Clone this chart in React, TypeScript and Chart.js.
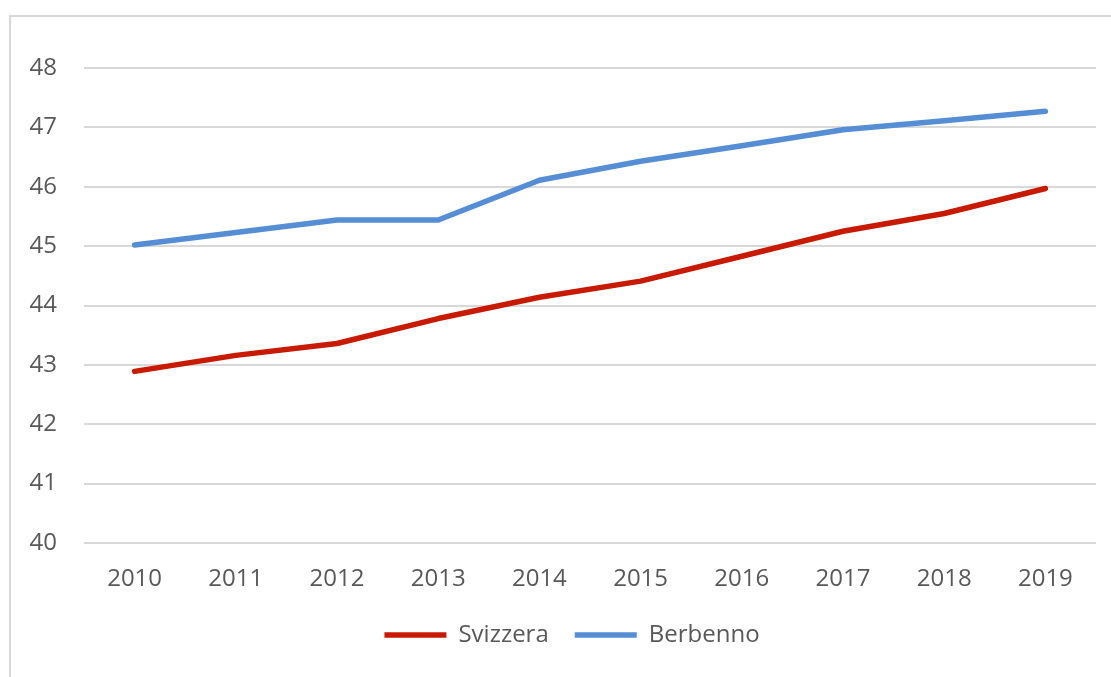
import React, { useEffect, useRef } from "react";
import { Chart, registerables } from "chart.js";

Chart.register(...registerables);

const years = ["2010", "2011", "2012", "2013", "2014", "2015", "2016", "2017", "2018", "2019"];
const svizzera = [42.89, 43.16, 43.36, 43.78, 44.14, 44.41, 44.83, 45.25, 45.55, 45.97];
const berbenno = [45.02, 45.23, 45.44, 45.44, 46.11, 46.43, 46.69, 46.96, 47.11, 47.27];
const yMin = 40;
const yMax = 48;

const FONT = "'Open Sans', 'DejaVu Sans', sans-serif";
const TEXT = "#595959";

const legendShift = {
  id: "legendShift",
  afterLayout(chart: any) {
    if (chart.legend) {
      chart.legend.left += 24;
      chart.legend.right += 24;
    }
  },
};

export default function App() {
  const ref = useRef<HTMLCanvasElement | null>(null);

  useEffect(() => {
    if (!ref.current) return;
    const chart = new Chart(ref.current, {
      type: "line",
      data: {
        labels: years,
        datasets: [
          {
            label: "Svizzera",
            data: svizzera,
            borderColor: "#C71A00",
            backgroundColor: "#C71A00",
            borderWidth: 5.5,
            borderCapStyle: "round",
            borderJoinStyle: "round",
            pointRadius: 0,
            tension: 0,
          },
          {
            label: "Berbenno",
            data: berbenno,
            borderColor: "#558ED5",
            backgroundColor: "#558ED5",
            borderWidth: 5.5,
            borderCapStyle: "round",
            borderJoinStyle: "round",
            pointRadius: 0,
            tension: 0,
          },
        ],
      },
      options: {
        animation: false,
        responsive: false,
        maintainAspectRatio: false,
        layout: { padding: { top: 68, right: 15, left: 0, bottom: 20 } },
        plugins: {
          tooltip: { enabled: false },
          legend: {
            position: "bottom",
            labels: {
              usePointStyle: true,
              pointStyle: "line",
              pointStyleWidth: 62,
              boxHeight: 24,
              padding: 26,
              color: TEXT,
              font: { family: FONT, size: 24 },
            },
          },
        },
        scales: {
          x: {
            offset: true,
            grid: { display: false, drawTicks: false },
            border: { display: false },
            ticks: { color: TEXT, font: { family: FONT, size: 24 }, padding: 22, maxRotation: 0 },
            afterFit: (s: any) => {
              s.height = 54;
            },
          },
          y: {
            min: yMin,
            max: yMax,
            grid: { color: "#D9D9D9", lineWidth: 2, drawTicks: false },
            border: { display: false },
            ticks: { stepSize: 1, color: TEXT, font: { family: FONT, size: 24 }, padding: 27 },
            afterFit: (s: any) => {
              s.width = 84;
            },
          },
        },
      },
      plugins: [legendShift],
    });
    return () => chart.destroy();
  }, []);

  return (
    <div style={{ position: "fixed", left: 0, top: 0, width: 1111, height: 677, overflow: "hidden", background: "#fff" }}>
      <div
        style={{
          position: "absolute",
          left: 9,
          top: 15,
          width: 1300,
          height: 900,
          border: "2px solid #D9D9D9",
          boxSizing: "border-box",
        }}
      />
      <canvas ref={ref} width={1111} height={677} style={{ position: "absolute", left: 0, top: 0 }} />
    </div>
  );
}
